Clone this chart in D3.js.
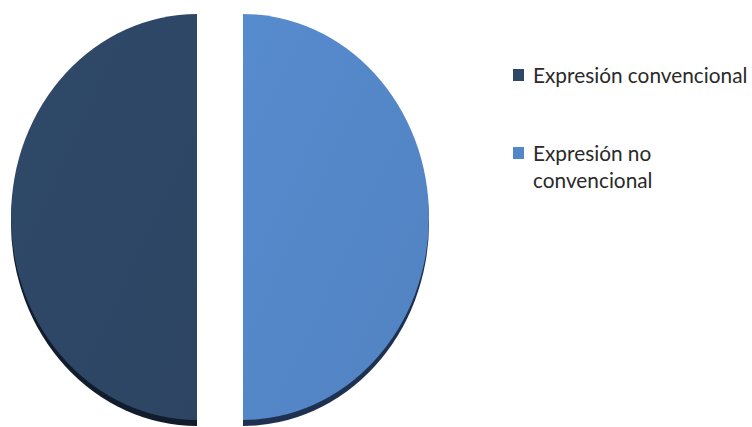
<!DOCTYPE html>
<html>
<head>
<meta charset="utf-8">
<script src="https://cdn.jsdelivr.net/npm/d3@7"></script>
<style>
  html, body { margin: 0; padding: 0; background: #ffffff; }
  svg { display: block; }
</style>
</head>
<body>
<svg id="chart" width="752" height="427"></svg>
<script>
// Chart data
const categories = ["Expresión convencional", "Expresión no convencional"];
const values = [50, 50];
const legendLines = [["Expresión convencional"], ["Expresión no", "convencional"]];
const topColors = ["#2e4766", "#5487c8"];
const sideColors = ["#111c2c", "#1f3150"];

const svg = d3.select("#chart");
const cx = 220, cy = 217;
const rx = 186, ry = 203;
const explode = 23;
const depth = 6;

const defs = svg.append("defs");
topColors.forEach((c, i) => {
  const g = defs.append("linearGradient")
    .attr("id", "face" + i)
    .attr("x1", "0%").attr("y1", "0%").attr("x2", "100%").attr("y2", "100%");
  g.append("stop").attr("offset", "0%").attr("stop-color", d3.color(c).brighter(0.08));
  g.append("stop").attr("offset", "100%").attr("stop-color", d3.color(c).darker(0.08));
});

const pie = d3.pie().sort(null).value(d => d)
  .startAngle(Math.PI).endAngle(3 * Math.PI);
const arcs = pie(values);
const arc = d3.arc().innerRadius(0).outerRadius(rx);

function offset(d) {
  const a = (d.startAngle + d.endAngle) / 2;
  return [Math.sin(a) * explode, -Math.cos(a) * explode];
}

// Pie edge (depth) drawn first, shifted downward
const side = svg.append("g");
arcs.forEach((d, i) => {
  const [ox, oy] = offset(d);
  side.append("g")
    .attr("transform", `translate(${cx + ox},${cy + oy + depth}) scale(1,${ry / rx})`)
    .append("path")
    .attr("d", arc(d))
    .attr("fill", sideColors[i]);
});

// Slice faces
const faces = svg.append("g");
arcs.forEach((d, i) => {
  const [ox, oy] = offset(d);
  faces.append("g")
    .attr("transform", `translate(${cx + ox},${cy + oy}) scale(1,${ry / rx})`)
    .append("path")
    .attr("d", arc(d))
    .attr("fill", `url(#face${i})`);
});

// Legend
const legend = svg.append("g").attr("transform", "translate(513,0)");
const rowTops = [69, 147];
const lineH = 27;
categories.forEach((c, i) => {
  const row = legend.append("g").attr("transform", `translate(0,${rowTops[i]})`);
  row.append("rect")
    .attr("x", 0).attr("y", 0)
    .attr("width", 11).attr("height", 12)
    .attr("fill", topColors[i]);
  const t = row.append("text")
    .attr("x", 20).attr("y", 14)
    .attr("font-family", "Lato, 'Open Sans', sans-serif")
    .attr("font-size", 20.8)
    .attr("fill", "#2a2a2a");
  legendLines[i].forEach((ln, j) => {
    t.append("tspan").attr("x", 20).attr("dy", j === 0 ? 0 : lineH).text(ln);
  });
});
</script>
</body>
</html>
